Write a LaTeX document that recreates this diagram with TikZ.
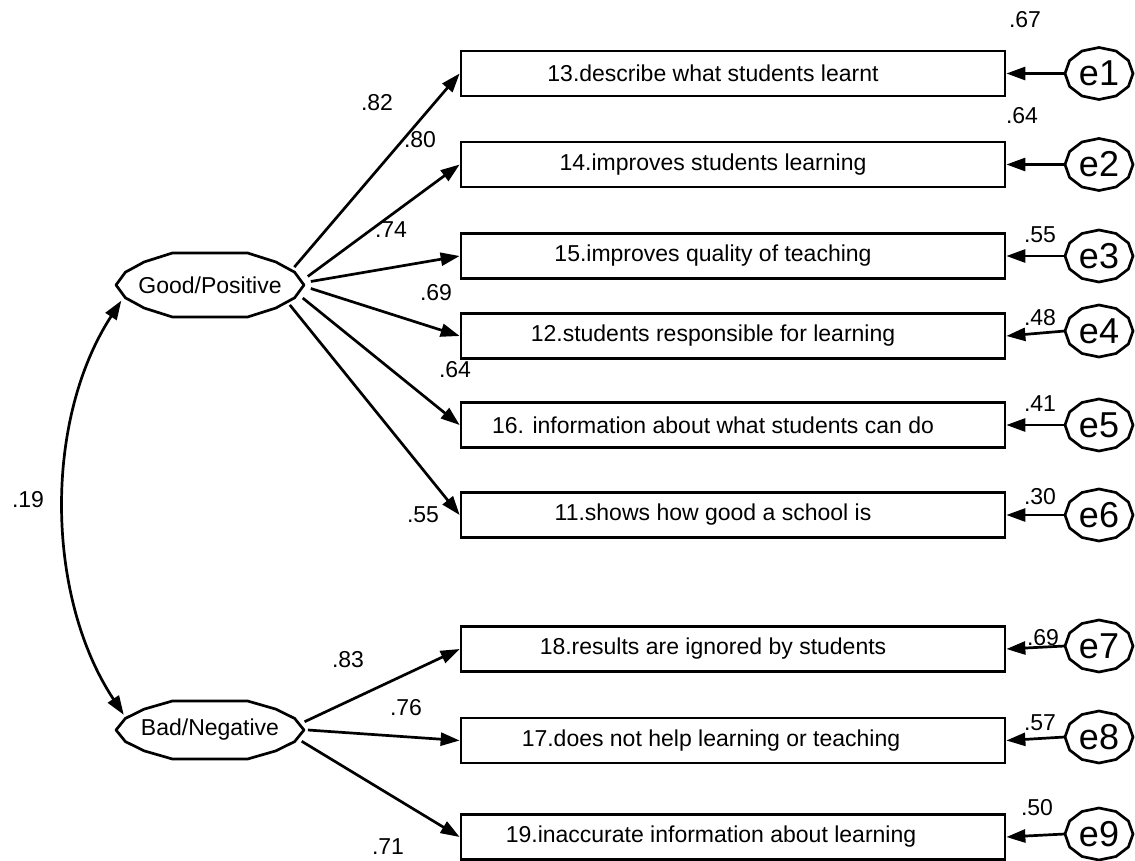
\documentclass[tikz,border=0pt]{standalone}
\usepackage{fontspec}
\setmainfont{Liberation Sans}
\usetikzlibrary{arrows.meta,shapes.geometric}

\tikzset{
  stroke/.style={line width=2.7pt},
  obs/.style={stroke, draw, minimum width=544pt, minimum height=45pt, inner sep=0pt},
  itemtext/.style={font=\fontsize{23}{26}\selectfont, inner sep=0pt},
  lat/.style={ellipse, minimum width=188pt, minimum height=64pt, inner sep=0pt,
              font=\fontsize{23}{26}\selectfont},
  err/.style={ellipse, minimum width=68pt, minimum height=52pt, inner sep=0pt,
              font=\fontsize{36}{40}\selectfont},
  tip/.tip={Triangle[length=19pt,width=13pt]},
  path/.style={stroke, -tip},
  coef/.style={font=\fontsize{23}{26}\selectfont, inner sep=0pt},
}

% polygonal outline of a latent variable (half axes #2, #3)
\newcommand\latpoly[3]{%
  \begin{scope}[shift={(#1.center)}]
    \draw[stroke, line join=round]
      (#2,0) -- (0.9*#2,0.4*#3) -- (0.7*#2,0.72*#3) -- (0.4*#2,#3) -- (-0.4*#2,#3)
      -- (-0.7*#2,0.72*#3) -- (-0.9*#2,0.4*#3) -- (-#2,0)
      -- (-0.9*#2,-0.4*#3) -- (-0.7*#2,-0.72*#3) -- (-0.4*#2,-#3) -- (0.4*#2,-#3)
      -- (0.7*#2,-0.72*#3) -- (0.9*#2,-0.4*#3) -- cycle;
  \end{scope}}
% polygonal outline of an error term
\newcommand\errpoly[1]{%
  \begin{scope}[shift={(#1.center)}]
    \draw[stroke, line join=round]
      (34,0) -- (29.4,13) -- (17,22.5) -- (0,26) -- (-17,22.5) -- (-29.4,13)
      -- (-34,0) -- (-29.4,-13) -- (-17,-22.5) -- (0,-26) -- (17,-22.5)
      -- (29.4,-13) -- cycle;
  \end{scope}}

\begin{document}
\begin{tikzpicture}[x=1pt,y=-1pt]
\useasboundingbox (0,0) rectangle (1135,861);

% latent factors
\node[lat] (good) at (210,285) {Good/Positive};
\node[lat] (bad)  at (210,730) {Bad/Negative};
\latpoly{good}{94}{32}
\latpoly{bad}{94}{29}

% observed items
\node[obs] (b13) at (733,73.5) {};
\node[obs] (b14) at (733,164.5) {};
\node[obs] (b15) at (733,256) {};
\node[obs] (b12) at (733,336) {};
\node[obs] (b16) at (733,425) {};
\node[obs] (b11) at (733,515) {};
\node[obs] (b18) at (733,649) {};
\node[obs] (b17) at (733,740.5) {};
\node[obs] (b19) at (733,837) {};

\node[itemtext] (t13) at (713,73.5) {13.describe what students learnt};
\node[itemtext] (t14) at (713,164.5) {14.improves students learning};
\node[itemtext] (t15) at (713,256) {15.improves quality of teaching};
\node[itemtext] (t12) at (713,336) {12.students responsible for learning};
\node[itemtext] (t16) at (713,425) {16. information about what students can do};
\node[itemtext] (t11) at (713,515) {11.shows how good a school is};
\node[itemtext] (t18) at (713,649) {18.results are ignored by students};
\node[itemtext] (t17) at (711,740.5) {17.does not help learning or teaching};
\node[itemtext] (t19) at (711,837) {19.inaccurate information about learning};

% error terms
\node[err] (e1) at (1099,73.5) {e1};
\node[err] (e2) at (1099,164.5) {e2};
\node[err] (e3) at (1099,256) {e3};
\node[err] (e4) at (1099,331) {e4};
\node[err] (e5) at (1099,425) {e5};
\node[err] (e6) at (1099,515) {e6};
\node[err] (e7) at (1099,646) {e7};
\node[err] (e8) at (1099,737) {e8};
\node[err] (e9) at (1099,834) {e9};
\foreach \e in {e1,e2,e3,e4,e5,e6,e7,e8,e9} {\errpoly{\e}}

% loadings, leaving the factors near their right tips
\foreach \b/\a in {b13/12,b14/5,b15/2,b12/-2,b16/-8,b11/-14}
  {\draw[path] (good.\a) -- (\b.west);}
\foreach \b/\a in {b18/5,b17/0,b19/-7}
  {\draw[path] (bad.\a) -- (\b.west);}

% residual paths
\foreach \e/\b in {e1/b13,e2/b14,e3/b15,e4/b12,e5/b16,e6/b11,e7/b18,e8/b17,e9/b19}
  {\draw[path] (\e.west) -- (\b.east);}

% factor covariance
\draw[stroke, tip-tip] (good.190) .. controls +(-78,120) and +(-78,-118) .. (bad.170);
\node[coef] (r) at (28,500) {.19};

% standardized loadings
\node[coef] (l13) at (377,103) {.82};
\node[coef] (l14) at (420,140) {.80};
\node[coef] (l15) at (391,230) {.74};
\node[coef] (l12) at (436,293) {.69};
\node[coef] (l16) at (455,370) {.64};
\node[coef] (l11) at (423,515) {.55};
\node[coef] (l18) at (348,660) {.83};
\node[coef] (l17) at (406,708) {.76};
\node[coef] (l19) at (388,847) {.71};

% squared multiple correlations
\node[coef] (s13) at (1025,20) {.67};
\node[coef] (s14) at (1022,116) {.64};
\node[coef] (s15) at (1040,235) {.55};
\node[coef] (s12) at (1040,318) {.48};
\node[coef] (s16) at (1040,404) {.41};
\node[coef] (s11) at (1040,497) {.30};
\node[coef] (s18) at (1043,638) {.69};
\node[coef] (s17) at (1040,723) {.57};
\node[coef] (s19) at (1037,808) {.50};
\end{tikzpicture}
\end{document}
